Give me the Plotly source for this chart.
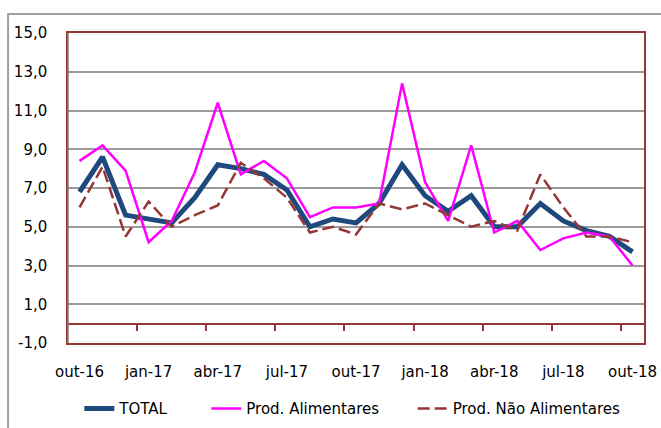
import plotly.graph_objects as go

# monthly series, out-16 .. out-18
months = ["out-16", "nov-16", "dez-16", "jan-17", "fev-17", "mar-17", "abr-17",
          "mai-17", "jun-17", "jul-17", "ago-17", "set-17", "out-17", "nov-17",
          "dez-17", "jan-18", "fev-18", "mar-18", "abr-18", "mai-18", "jun-18",
          "jul-18", "ago-18", "set-18", "out-18"]
total = [6.8, 8.6, 5.6, 5.4, 5.2, 6.5, 8.2, 8.0, 7.7, 6.9, 5.0, 5.4, 5.2, 6.2,
         8.2, 6.6, 5.8, 6.6, 5.0, 5.0, 6.2, 5.3, 4.8, 4.5, 3.7]
alimentares = [8.4, 9.2, 7.9, 4.2, 5.3, 7.8, 11.4, 7.7, 8.4, 7.5, 5.5, 6.0, 6.0,
               6.2, 12.4, 7.3, 5.3, 9.2, 4.7, 5.3, 3.8, 4.4, 4.7, 4.5, 3.0]
nao_alimentares = [6.0, 8.1, 4.5, 6.3, 5.0, 5.6, 6.1, 8.3, 7.5, 6.5, 4.7, 5.0,
                   4.6, 6.2, 5.9, 6.2, 5.6, 5.0, 5.3, 4.8, 7.7, 6.0, 4.5, 4.5, 4.2]
tick_labels = ["out-16", "jan-17", "abr-17", "jul-17", "out-17", "jan-18",
               "abr-18", "jul-18", "out-18"]
y_ticks = [-1, 1, 3, 5, 7, 9, 11, 13, 15]
y_tick_labels = ["-1,0", "1,0", "3,0", "5,0", "7,0", "9,0", "11,0", "13,0", "15,0"]

x = list(range(len(months)))
tick_pos = x[::3]
boundary_pos = [i + 2.5 for i in x[::3] if i + 2.5 < len(months) - 0.5]

RED = "#953735"
FONT = "DejaVu Sans"
PAD = "\u00a0"  # spacing between legend entries

fig = go.Figure()
fig.add_trace(go.Scatter(x=x, y=total, name="TOTAL" + PAD * 7, mode="lines",
                         line=dict(color="#1f497d", width=5)))
fig.add_trace(go.Scatter(x=x, y=alimentares, name="Prod. Alimentares" + PAD * 6,
                         mode="lines", line=dict(color="#ff00ff", width=2.5)))
fig.add_trace(go.Scatter(x=x, y=nao_alimentares, name="Prod. Não Alimentares",
                         mode="lines", line=dict(color=RED, width=2.5, dash="12px,5px")))
# invisible helper so the zero-line axis gets drawn
fig.add_trace(go.Scatter(x=x, y=total, xaxis="x2", yaxis="y", mode="lines",
                         line=dict(width=0), opacity=0, showlegend=False,
                         hoverinfo="skip"))

fig.update_layout(
    width=661, height=428,
    margin=dict(l=68, r=17, t=33, b=85, autoexpand=False),
    paper_bgcolor="white", plot_bgcolor="white",
    font=dict(family=FONT, size=15, color="black"),
    showlegend=True,
    legend=dict(orientation="h", xref="container", yref="container",
                x=0.12, xanchor="left", y=0.045, yanchor="middle",
                font=dict(size=15), bgcolor="rgba(0,0,0,0)"),
    xaxis=dict(range=[-0.5, len(months) - 0.5], tickvals=tick_pos, ticktext=tick_labels,
               ticks="", showgrid=False, zeroline=False, showline=True, mirror=True,
               linecolor=RED, linewidth=1.5, ticklabelstandoff=14),
    xaxis2=dict(range=[-0.5, len(months) - 0.5], overlaying="x", anchor="free",
                position=1 / 16, tickvals=boundary_pos, ticks="outside", ticklen=7,
                tickcolor=RED, tickwidth=1.5, showticklabels=False, showgrid=False,
                zeroline=False, showline=True, linecolor=RED, linewidth=1.5),
    yaxis=dict(range=[-1, 15], tickvals=y_ticks, ticktext=y_tick_labels, ticks="",
               showgrid=True, gridcolor="#9a9a9a", gridwidth=1.5, zeroline=False,
               showline=True, mirror=True, linecolor=RED, linewidth=1.5,
               ticklabelstandoff=16),
    shapes=[
        dict(type="rect", xref="paper", yref="paper",
             x0=-0.104, x1=1.2, y0=-0.5, y1=1.061,
             line=dict(color="#a0a0a0", width=2), fillcolor="rgba(0,0,0,0)",
             layer="below"),
        dict(type="line", xref="paper", yref="paper", x0=0, x1=0, y0=0, y1=1,
             line=dict(color="#8c7a7a", width=1.5)),
    ],
)

# drop the default page margin so the figure sits at the window origin
fig.write_html("out.html", config={"displayModeBar": False},
               post_script="document.body.style.margin='0';")
